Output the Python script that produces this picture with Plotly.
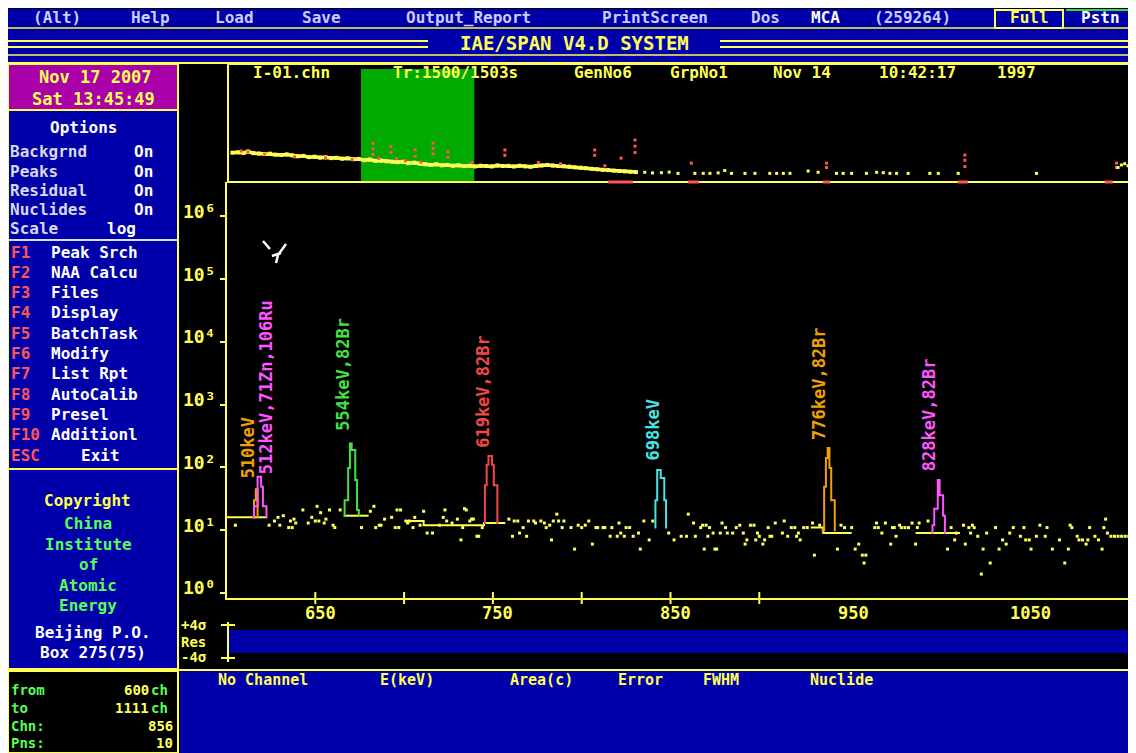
import math
import plotly.graph_objects as go

# ---------------- data : main spectrum (channels 600..1111) ----------------
ch_from, ch_to = 600, 1111

bg_ch = [605, 624, 627, 629, 630, 632, 635, 636, 637, 638, 639, 643, 646, 648, 650, 651, 652, 653, 655, 656, 658, 660, 661, 664,
         676, 681, 683, 684, 686, 687, 689, 693, 695, 696, 697, 698, 701, 702, 703, 705, 706, 709, 711, 713, 716, 720, 722, 723,
         724, 727, 730, 732, 733, 734, 735, 737, 738, 739, 741, 742, 744,
         759, 761, 762, 764, 765, 767, 769, 770, 773, 774, 777, 779, 780, 782, 783, 784, 786, 787, 789, 790, 794, 796, 798, 800,
         802, 804, 806, 808, 809, 812, 813, 816, 817, 820, 821, 822, 824, 825, 827, 829, 832, 833, 835, 838, 840,
         849, 852, 856, 859, 860, 863, 864, 867, 868, 869, 870, 871, 872, 874, 875, 876, 878, 879, 881, 882, 885, 887, 889, 891,
         892, 893, 895, 897, 898, 899, 900, 902, 903, 905, 906, 907, 909, 913, 914, 916, 918, 920, 921, 922, 923, 925, 927, 930,
         931, 934,
         944, 946, 948, 952, 954, 956, 958, 959, 960, 965, 966, 967, 969, 971, 974, 975, 976, 977, 979, 980, 982, 984, 986, 988,
         989, 990, 995,
         1006, 1008, 1010, 1011, 1015, 1016, 1018, 1019, 1020, 1021, 1023, 1025, 1026, 1028, 1030, 1033, 1035, 1037, 1039, 1041,
         1043, 1047, 1049, 1050, 1052, 1053, 1056, 1058, 1061, 1062, 1065, 1069, 1072, 1074, 1075, 1076, 1079, 1080, 1082, 1084,
         1085, 1086, 1089, 1091, 1093, 1094, 1095, 1096, 1098, 1100, 1102, 1104, 1106, 1108, 1109, 1110]
bg_ct = [12, 12, 14, 16, 12, 17, 11, 14, 11, 15, 13, 21, 13, 16, 14, 24, 14, 19, 13, 15, 21, 12, 11, 21,
         11, 20, 24, 11, 12, 12, 15, 16, 11, 21, 11, 21, 14, 13, 14, 11, 16, 12, 20, 9, 9, 12, 16, 21,
         14, 13, 15, 7, 11, 22, 21, 14, 15, 15, 8, 8, 11,
         15, 8, 14, 14, 9, 11, 8, 14, 14, 13, 14, 13, 11, 12, 7, 14, 18, 14, 11, 14, 11, 5, 12, 11,
         12, 14, 6, 11, 11, 11, 11, 8, 11, 8, 13, 9, 8, 11, 11, 8, 9, 5, 14, 7, 14,
         9, 7, 8, 8, 18, 13, 8, 11, 12, 5, 12, 8, 11, 9, 5, 5, 9, 13, 11, 9, 9, 11, 12, 9,
         6, 7, 12, 12, 7, 9, 8, 6, 7, 11, 8, 8, 13, 9, 14, 8, 11, 11, 8, 9, 7, 11, 11, 13,
         4, 12,
         5, 12, 11, 11, 5, 6, 4, 3, 4, 11, 13, 11, 9, 13, 6, 11, 11, 8, 12, 11, 11, 11, 13, 6,
         11, 13, 14,
         5, 11, 7, 9, 12, 6, 11, 9, 12, 11, 8, 2, 5, 9, 3, 11, 5, 7, 6, 9,
         11, 8, 11, 7, 7, 5, 8, 12, 8, 11, 5, 7, 3, 5, 12, 11, 8, 7, 7, 6,
         7, 11, 8, 7, 5, 11, 15, 9, 8, 8, 8, 8, 8, 8, 7, 8]

# fitted background segments (None = gap)
base_ch = [600, 623, None, 666, 680, None, 701, 711, 711, 745, 745, 757, None, 929, 936, 936, 952, None, 988, 1013]
base_ct = [16, 16, None, 17, 17, None, 14, 14, 12, 12, 13, 13, None, 11, 11, 9, 9, None, 9, 9]

pk510_ch = [614, 615, 616, 617, 618]
pk510_ct = [16, 16, 30, 45, 16]
pk512_ch = [615, 616, 617, 618, 619, 620, 621, 622, 623]
pk512_ct = [16, 24, 24, 71, 71, 49, 24, 24, 16]
pk554_ch = [666, 667, 668, 669, 670, 671, 672, 673, 674, 675]
pk554_ct = [17, 30, 30, 98, 241, 190, 190, 63, 21, 17]
pk619_ch = [745, 746, 747, 748, 749, 750, 751, 752, 753]
pk619_ct = [13, 52, 110, 152, 152, 110, 52, 52, 13]
pk698_ch = [841, 842, 843, 844, 845, 846, 847, 848]
pk698_ct = [11, 30, 91, 91, 68, 68, 30, 11]
pk776_ch = [935, 936, 937, 938, 939, 940, 941, 942, 943]
pk776_ct = [10, 10, 49, 141, 204, 98, 30, 30, 10]
pk828_ch = [997, 998, 999, 1000, 1001, 1002, 1003, 1004, 1005]
pk828_ct = [9, 12, 22, 22, 63, 36, 36, 17, 9]

peak_labels = ["510keV", "512keV,71Zn,106Ru", "554keV,82Br", "619keV,82Br", "698keV", "776keV,82Br", "828keV,82Br"]

# ---------------- data : overview (full spectrum 0..4096) ----------------
ov_ch = [20, 45, 70, 90, 115, 140, 165, 190, 215, 240, 265, 290, 315, 340, 365, 390, 415, 440, 465, 490,
         515, 540, 565, 590, 615, 640, 665, 690, 715, 740, 765, 790, 815, 840, 865, 890, 915, 940, 965, 990,
         1015, 1040, 1065, 1090, 1115, 1140, 1165, 1190, 1215, 1240, 1265, 1290, 1315, 1340, 1365, 1390, 1415, 1440, 1465, 1490,
         1515, 1540, 1565, 1590, 1615, 1640, 1665, 1690, 1715, 1740, 1765, 1790, 1815, 1840]
ov_ct = [59, 62, 57, 70, 55, 52, 49, 51, 44, 42, 46, 40, 35, 37, 31, 33, 29, 30, 27, 28,
         25, 26, 23, 24, 20, 22, 18, 19, 17, 16, 15, 16, 13, 14, 12, 11, 10, 11, 9.5, 10,
         9, 9.5, 8.5, 9, 8.2, 9, 8.7, 8.2, 9.3, 8.6, 8.8, 8.1, 9, 8.2, 7.8, 8.6, 9.4, 10, 9.2, 8.7,
         8.4, 7.9, 7.2, 6.8, 6.3, 5.8, 5.4, 5, 4.8, 4.4, 4.2, 4.0, 3.8, 3.6]
ovd_ch = [1880, 1915, 1955, 1990, 2030, 2106, 2144, 2174, 2211, 2241, 2271, 2332, 2377, 2444, 2475, 2505, 2535, 2617, 2662,
          2745, 2775, 2813, 2880, 2926, 2956, 2986, 3016, 3068, 3166, 3204, 3294, 3647, 4015, 4030, 4045, 4060, 4075, 4090]
ovd_ct = [3.5, 3.2, 3.3, 3.6, 3, 3, 3, 3, 3.2, 4.5, 3, 3, 3, 3, 3, 3, 3, 4.2, 3.5,
          3, 3, 3, 3, 3.5, 3.3, 3, 3, 3, 3, 3, 3, 3, 7, 10, 12, 9, 11, 10]
ovr_ch = [60, 90, 165, 300, 440, 560, 654, 654, 654, 680, 735, 735, 760, 800, 844, 844, 870, 925, 925, 925, 992, 992,
          1100, 1249, 1249, 1400, 1500, 1654, 1654, 1700, 1773, 1836, 1836, 1836, 2090, 2700, 2700, 3324, 3324, 3324, 4008, 4008]
ovr_ct = [75, 66, 48, 32, 28, 22, 228, 100, 45, 26, 140, 60, 25, 18, 90, 35, 15, 230, 110, 50, 68, 30,
          14, 87, 40, 14, 12, 87, 40, 9, 27, 365, 150, 60, 13, 13, 7, 42, 20, 8, 13, 7]
roi_ranges = [(1714, 1827), (2075, 2125), (2683, 2716), (3292, 3337), (3955, 3991)]
zoom_window = (600, 1111)

x_tick_vals = [650, 700, 750, 800, 850, 900]
x_label_vals = [650, 750, 850, 950, 1050]
x_label_text = ["650", "750", "850", "950", "1050"]
y_decades = [0, 1, 2, 3, 4, 5, 6]
y_label_text = ["10⁰", "10¹", "10²", "10³", "10⁴", "10⁵", "10⁶"]

# ---------------- styling / geometry ----------------
OFFX, OFFY = 8, 8
FW, FH = 1128, 745
def X(x): return (x - OFFX) / FW
def Y(y): return 1 - (y - OFFY) / FH

BLUE = "#0000AA"; YEL = "#FFFF55"; MAGBG = "#AA00AA"; BLACK = "#000000"
WHITE = "#FFFFFF"; LAV = "#CCCCFF"; GRAY = "#D8D8E8"; FRED = "#FF5555"; LGRN = "#55FF55"
ORANGE = "#F2A000"; PINK = "#FF55FF"; GRN = "#44E044"; RED = "#F04848"; CYAN = "#44E4E4"
FONT = "DejaVu Sans Mono"

shapes = []
ann = []

def rect(x0, y0, x1, y1, fill=None, line=None, lw=0, layer="below"):
    shapes.append(dict(type="rect", xref="paper", yref="paper", x0=X(x0), x1=X(x1), y0=Y(y1), y1=Y(y0),
                       fillcolor=fill or "rgba(0,0,0,0)",
                       line=dict(color=line or "rgba(0,0,0,0)", width=lw), layer=layer))

def hline(x0, x1, y, color, lw=2, layer="above"):
    shapes.append(dict(type="line", xref="paper", yref="paper", x0=X(x0), x1=X(x1), y0=Y(y), y1=Y(y),
                       line=dict(color=color, width=lw), layer=layer))

def vline(x, y0, y1, color, lw=2, layer="above"):
    shapes.append(dict(type="line", xref="paper", yref="paper", x0=X(x), x1=X(x), y0=Y(y0), y1=Y(y1),
                       line=dict(color=color, width=lw), layer=layer))

def text(s, x, y, color, size=16, anchor="center", bold=True):
    ann.append(dict(text=s, x=X(x), y=Y(y), xref="paper", yref="paper", xanchor=anchor, yanchor="middle",
                    showarrow=False, borderpad=0, font=dict(family=FONT, size=size, color=color,
                                                            weight="bold" if bold else "normal")))

# ---- backgrounds ----
rect(8, 9, 1136, 753, fill=BLACK)
rect(8, 9, 1136, 27, fill=BLUE)
rect(8, 29, 1136, 63, fill=BLUE)
hline(8, 1136, 28, YEL, 1.5, "below")
hline(8, 1136, 55, YEL, 1.5, "below")
hline(8, 1136, 63, YEL, 2, "below")
hline(8, 428, 41, YEL, 2, "below"); hline(8, 428, 47, YEL, 2, "below")
hline(720, 1136, 41, YEL, 2, "below"); hline(720, 1136, 47, YEL, 2, "below")
rect(995, 10, 1063, 28, line=YEL, lw=2)
hline(1066, 1136, 10, "#33DD33", 2, "below")

# left panel
rect(8, 64, 178, 110, fill=MAGBG, line=YEL, lw=2)
rect(8, 110, 178, 469, fill=BLUE, line=YEL, lw=2)
hline(8, 178, 240, "#E0E0F0", 2, "below")
rect(8, 469, 178, 669, fill=BLUE, line=YEL, lw=2)
rect(8, 671, 178, 753, fill=BLACK, line=YEL, lw=2)
hline(8, 1136, 670, YEL, 2, "below")
rect(180, 671, 1136, 753, fill=BLUE)

# overview zoom window (green) and frame
shapes.append(dict(type="rect", xref="x2", yref="paper", x0=zoom_window[0], x1=zoom_window[1], y0=Y(181), y1=Y(69),
                   fillcolor="#00AA00", line=dict(width=0), layer="below"))
rect(228, 64, 1136, 182, line=YEL, lw=2, layer="above")
for a, b in roi_ranges:
    shapes.append(dict(type="line", xref="x2", yref="paper", x0=a, x1=b, y0=Y(182), y1=Y(182),
                       line=dict(color=FRED, width=3), layer="above"))

# residual strip
rect(229, 630, 1136, 653, fill=BLUE)
vline(228, 622, 662, YEL, 2)
hline(221, 235, 625, YEL, 2)
hline(221, 235, 658, YEL, 2)

# x-axis tick marks (data coordinates)
for v in x_tick_vals:
    shapes.append(dict(type="line", xref="x", yref="paper", x0=v, x1=v, y0=Y(592), y1=Y(604),
                       line=dict(color=YEL, width=2), layer="above"))

# cursor mark
cur = "M %f,%f L %f,%f M %f,%f L %f,%f L %f,%f M %f,%f L %f,%f" % (
    X(263), Y(241), X(270), Y(249), X(286), Y(244), X(278), Y(255), X(276), Y(263), X(272), Y(256), X(281), Y(253))
shapes.append(dict(type="path", xref="paper", yref="paper", path=cur, line=dict(color=WHITE, width=2.5), layer="above"))

# ---- texts ----
for s, cx in [("(Alt)", 57), ("Help", 150), ("Load", 234), ("Save", 321), ("Output_Report", 468),
              ("PrintScreen", 655), ("Dos", 765), ("(259264)", 912)]:
    text(s, cx, 17, LAV)
text("MCA", 825, 17, WHITE)
text("Full", 1029, 18, YEL)
text("Pstn", 1100, 18, WHITE)
text("IAE/SPAN V4.D SYSTEM", 574, 43, YEL, 19)

text("Nov 17 2007", 95, 77, YEL, 17)
text("Sat 13:45:49", 93, 99, YEL, 17)
text("Options", 83, 128, WHITE)
for i, (lab, val) in enumerate([("Backgrnd", "On"), ("Peaks", "On"), ("Residual", "On"), ("Nuclides", "On")]):
    yy = 152 + i * 19
    text(lab, 9, yy, GRAY, anchor="left")
    text(val, 133, yy, WHITE, anchor="left")
text("Scale", 9, 228, GRAY, anchor="left")
text("log", 106, 228, WHITE, anchor="left")

fkeys = [("F1", "Peak Srch"), ("F2", "NAA Calcu"), ("F3", "Files"), ("F4", "Display"), ("F5", "BatchTask"),
         ("F6", "Modify"), ("F7", "List Rpt"), ("F8", "AutoCalib"), ("F9", "Presel"), ("F10", "Additionl")]
for i, (k, lab) in enumerate(fkeys):
    yy = 252 + i * 20.3
    text(k, 10, yy, FRED, anchor="left")
    text(lab, 50, yy, WHITE, anchor="left")
text("ESC", 10, 456, FRED, anchor="left")
text("Exit", 80, 456, WHITE, anchor="left")

text("Copyright", 87, 500, YEL)
for s, yy in [("China", 523), ("Institute", 544), ("of", 564), ("Atomic", 585), ("Energy", 605)]:
    text(s, 88, yy, LGRN)
text("Beijing P.O.", 93, 632, WHITE)
text("Box 275(75)", 93, 652, WHITE)

for lab, val, unit, yy in [("from", "600", "ch", 690), ("to", "1111", "ch", 708),
                           ("Chn:", "856", "", 726), ("Pns:", "10", "", 743)]:
    text(lab, 10, yy, LGRN, 14, anchor="left")
    if unit:
        text(val, 150, yy, YEL, 14, anchor="right")
        text(unit, 169, yy, LGRN, 14, anchor="right")
    else:
        text(val, 174, yy, YEL, 14, anchor="right")

for s, cx in [("I-01.chn", 291), ("Tr:1500/1503s", 455), ("GenNo6", 603), ("GrpNo1", 699),
              ("Nov 14", 802), ("10:42:17", 917), ("1997", 1016)]:
    text(s, cx, 73, YEL, 16)

text("+4σ", 180, 625, YEL, 14, anchor="left")
text("Res", 180, 642, YEL, 14, anchor="left")
text("-4σ", 180, 657, YEL, 14, anchor="left")

for s, cx in [("No Channel", 263), ("E(keV)", 407), ("Area(c)", 541), ("Error", 640), ("FWHM", 721), ("Nuclide", 841)]:
    text(s, cx, 680, YEL, 15)

# axis labels
for v, t in zip(x_label_vals, x_label_text):
    ann.append(dict(text=t, x=v, xref="x", y=Y(613), yref="paper", xanchor="center", yanchor="middle",
                    xshift=5, showarrow=False, font=dict(family=FONT, size=17, color=YEL, weight="bold")))
for n, t in zip(y_decades, y_label_text):
    ann.append(dict(text=t, x=X(181), xref="paper", y=n, yref="y", xanchor="left",
                    yanchor="middle", yshift=5, showarrow=False,
                    font=dict(family=FONT, size=18, color=YEL, weight="bold")))

# ---- traces ----
fig = go.Figure()
fig.add_trace(go.Scatter(x=ov_ch, y=ov_ct, xaxis="x2", yaxis="y2", mode="lines+markers",
                         line=dict(color=YEL, width=3.5),
                         marker=dict(symbol="square", size=4, color=YEL, line=dict(width=0)), hoverinfo="skip"))
fig.add_trace(go.Scatter(x=ovr_ch, y=ovr_ct, xaxis="x2", yaxis="y2", mode="markers",
                         marker=dict(symbol="square", size=3, color=FRED, line=dict(width=0)), hoverinfo="skip"))
fig.add_trace(go.Scatter(x=ovd_ch, y=ovd_ct, xaxis="x2", yaxis="y2", mode="markers",
                         marker=dict(symbol="square", size=3, color=YEL, line=dict(width=0)), hoverinfo="skip"))

fig.add_trace(go.Scatter(x=bg_ch, y=bg_ct, mode="markers",
                         marker=dict(symbol="square", size=3, color=YEL, line=dict(width=0)), hoverinfo="skip"))
fig.add_trace(go.Scatter(x=base_ch, y=base_ct, mode="lines", line=dict(color=YEL, width=2), hoverinfo="skip"))

peaks = [(pk510_ch, pk510_ct, ORANGE), (pk512_ch, pk512_ct, PINK), (pk554_ch, pk554_ct, GRN),
         (pk619_ch, pk619_ct, RED), (pk698_ch, pk698_ct, CYAN), (pk776_ch, pk776_ct, ORANGE), (pk828_ch, pk828_ct, PINK)]
label_xshift = [-9, 7, -8, -6, -5, -9, -9]
label_yshift = [9, 1, 11, 6, 7, 6, 7]
for (cx, cy, col), lab, xs, ys in zip(peaks, peak_labels, label_xshift, label_yshift):
    fig.add_trace(go.Scatter(x=cx, y=cy, mode="lines", line=dict(color=col, width=2, shape="hvh"), hoverinfo="skip"))
    top = max(cy)
    xc = cx[cy.index(top)]
    ann.append(dict(text=lab, x=xc, xref="x", y=math.log10(top), yref="y", xanchor="center", yanchor="bottom",
                    xshift=xs, yshift=ys, textangle=-90, showarrow=False,
                    font=dict(family=FONT, size=17, color=col, weight="bold")))

fig.update_layout(
    width=FW, height=FH, margin=dict(l=0, r=0, t=0, b=0, pad=0),
    paper_bgcolor=BLACK, plot_bgcolor="rgba(0,0,0,0)", showlegend=False, hovermode=False,
    xaxis=dict(domain=[X(226.5), 1], range=[ch_from, ch_from + (1136 - 226.5) / 1.776], showgrid=False,
               zeroline=False, showline=True, linecolor=YEL, linewidth=2, ticks="", showticklabels=False,
               fixedrange=True, anchor="y"),
    yaxis=dict(domain=[Y(598), Y(182)], type="log", range=[-0.08, 6.545], showgrid=False, zeroline=False,
               showline=True, linecolor=YEL, linewidth=2, ticks="outside", ticklen=5, tickwidth=2, tickcolor=YEL,
               tickvals=[10 ** n for n in y_decades], showticklabels=False, fixedrange=True, anchor="x"),
    xaxis2=dict(domain=[X(228), 1], range=[0, 4096], anchor="y2", visible=False, fixedrange=True),
    yaxis2=dict(domain=[Y(181), Y(66)], type="log", range=[0, 115 / 16], anchor="x2", visible=False, fixedrange=True),
    shapes=shapes, annotations=ann,
)

fig.write_html("out.html", config={"displayModeBar": False, "staticPlot": True})
